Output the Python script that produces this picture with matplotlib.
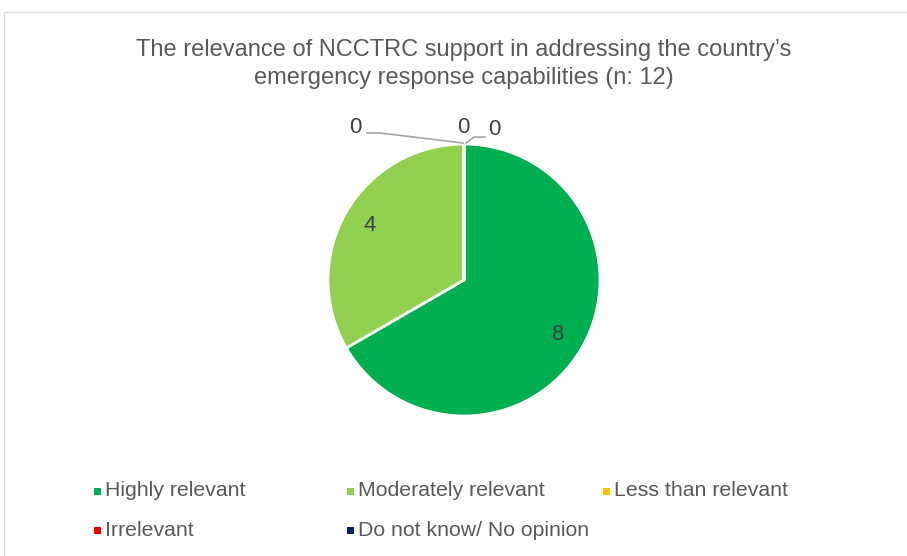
import matplotlib.pyplot as plt
import numpy as np
from matplotlib.patches import Rectangle

plt.rcParams["font.family"] = ["Liberation Sans", "DejaVu Sans"]

categories = ["Highly relevant", "Moderately relevant", "Less than relevant",
              "Irrelevant", "Do not know/ No opinion"]
counts = [8, 4, 0, 0, 0]
colors = ["#00B050", "#92D050", "#FFC000", "#FF0000", "#002060"]
title = "The relevance of NCCTRC support in addressing the country\u2019s\nemergency response capabilities (n: 12)"

W, H = 907, 556
fig = plt.figure(figsize=(W / 100, H / 100), dpi=100)

# chart frame (bottom and right run off the image)
fig.patches.append(Rectangle((4 / W, -0.05), 1.0, 1.05 - 12 / H, transform=fig.transFigure,
                             fill=False, edgecolor="#D9D9D9", linewidth=1))

fig.text(464 / W, 1 - 64 / H, title, ha="center", va="center", fontsize=17,
         color="#595959", linespacing=1.3)

cx, cy, r = 464, 280, 136
ax = fig.add_axes([(cx - r) / W, (H - cy - r) / H, 2 * r / W, 2 * r / H])
wedges, _ = ax.pie(counts, colors=colors, startangle=90, counterclock=False,
                   radius=1, wedgeprops=dict(edgecolor="white", linewidth=2))
ax.set_xlim(-1, 1)
ax.set_ylim(-1, 1)
ax.set_aspect("equal")
ax.axis("off")

for w, c in zip(wedges, counts):
    if c == 0:
        continue
    ang = np.deg2rad((w.theta1 + w.theta2) / 2)
    ax.text(0.8 * np.cos(ang), 0.8 * np.sin(ang), str(c), ha="center", va="center",
            fontsize=16, color="#404040")

# zero labels pulled out above the pie with leader lines
zero_pos = [(-0.80, 1.118), (-0.007, 1.118), (0.22, 1.103)]
leaders = [[(-0.713, 1.081), (-0.618, 1.081), (-0.007, 1.007)],
           None,
           [(0.015, 1.007), (0.074, 1.051), (0.154, 1.051)]]
zi = 0
for c in counts:
    if c != 0:
        continue
    x, y = zero_pos[zi]
    ax.text(x, y, str(c), ha="center", va="center", fontsize=16, color="#404040",
            clip_on=False)
    if leaders[zi]:
        xs, ys = zip(*leaders[zi])
        ax.plot(xs, ys, color="#A6A6A6", linewidth=1.2, clip_on=False)
    zi += 1

# legend laid out like the Excel grid
col_x = [97, 350, 606]
row_y = [491, 530]
for i, (name, col) in enumerate(zip(categories, colors)):
    x = col_x[i % 3]
    y = row_y[i // 3]
    fig.add_artist(Rectangle(((x - 3.5) / W, (H - y - 3.5) / H), 7 / W, 7 / H,
                             transform=fig.transFigure, facecolor=col, edgecolor="none"))
    fig.text((x + 8) / W, 1 - y / H, name, ha="left", va="center", fontsize=15.3,
             color="#595959")

fig.savefig("out.png", dpi=100)
